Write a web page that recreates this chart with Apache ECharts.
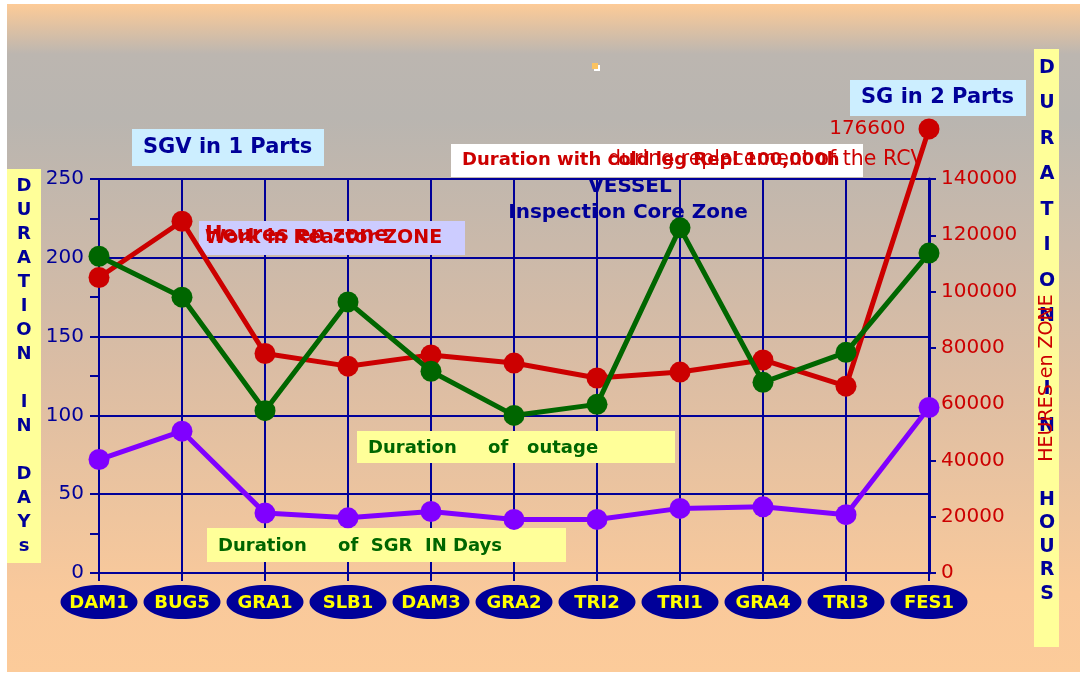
<!DOCTYPE html>
<html><head><meta charset="utf-8">
<script src="https://cdn.jsdelivr.net/npm/echarts@6/dist/echarts.min.js"></script>
<style>html,body{margin:0;padding:0;background:#fff}#c{width:1086px;height:674px}</style>
</head><body><div id="c"></div>
<script>
// ---- data ----
const categories = ['DAM1','BUG5','GRA1','SLB1','DAM3','GRA2','TRI2','TRI1','GRA4','TRI3','FES1'];
const outageDays = [201,175,103,172,128,100,107,219,121,140,203];
const sgrDays = [72,90,38,35,39,34,34,41,42,37,105];
const hoursInZone = [105000,125000,78000,73500,77500,74600,69300,71400,75700,66400,157800];
const hoursLabels = ['','','','','','','','','','','176600'];
const leftAxisRange = [0,250,50];
const rightAxisRange = [0,140000,20000];

const NAVY = '#000099', RED = '#cc0000', GREEN = '#006600', PURPLE = '#8000ff';
const F = 'DejaVu Sans';

const chart = echarts.init(document.getElementById('c'));

const redData = hoursInZone.map((v,i) => hoursLabels[i] ? {
  value: v,
  label: {show:true, position:'left', distance:13, formatter: hoursLabels[i],
          color: RED, fontSize: 20, fontFamily: F}
} : v);

chart.setOption({
  animation: false,
  grid: {left: 99, right: 157, top: 179, bottom: 101},
  xAxis: {
    type: 'category', data: categories, boundaryGap: false,
    axisLine: {lineStyle: {color: NAVY, width: 2}},
    axisTick: {show: true, length: 8, lineStyle: {color: NAVY, width: 2}},
    axisLabel: {color: '#ffff00', fontWeight: 'bold', fontSize: 18, fontFamily: F,
                margin: 30, verticalAlign: 'middle'},
    splitLine: {show: true, lineStyle: {color: NAVY, width: 2}}
  },
  yAxis: [{
    type: 'value', min: leftAxisRange[0], max: leftAxisRange[1], interval: leftAxisRange[2],
    axisLine: {show: true, lineStyle: {color: NAVY, width: 2}},
    axisTick: {show: true, length: 9, lineStyle: {color: NAVY, width: 2}},
    minorTick: {show: true, splitNumber: 2, length: 9, lineStyle: {color: NAVY, width: 2}},
    axisLabel: {color: NAVY, fontSize: 20, fontFamily: F, margin: 15},
    splitLine: {show: true, lineStyle: {color: NAVY, width: 2}}
  }, {
    type: 'value', position: 'right', min: rightAxisRange[0], max: rightAxisRange[1], interval: rightAxisRange[2],
    axisLine: {show: true, lineStyle: {color: NAVY, width: 3}},
    axisTick: {show: true, length: 7, lineStyle: {color: NAVY, width: 2}},
    axisLabel: {color: RED, fontSize: 20, fontFamily: F, margin: 12, formatter: v => String(v)},
    splitLine: {show: false}
  }],
  series: [{
    name: 'Heures en zone', type: 'line', yAxisIndex: 1, data: redData, clip: false,
    symbol: 'circle', symbolSize: 21, lineStyle: {color: RED, width: 5},
    itemStyle: {color: RED}, z: 3
  }, {
    name: 'Duration of outage', type: 'line', yAxisIndex: 0, data: outageDays,
    symbol: 'circle', symbolSize: 21, lineStyle: {color: GREEN, width: 5},
    itemStyle: {color: GREEN}, z: 4
  }, {
    name: 'Duration of SGR', type: 'line', yAxisIndex: 0, data: sgrDays,
    symbol: 'circle', symbolSize: 21, lineStyle: {color: PURPLE, width: 5},
    itemStyle: {color: PURPLE}, z: 5
  }]
});

function txt(x, y, text, font, fill, extra) {
  return Object.assign({type: 'text', x: x, y: y, z: 1,
    style: {text: text, font: font, fill: fill, textAlign: 'left', textVerticalAlign: 'middle'}}, extra || {});
}
function box(x, y, w, h, fill, z) {
  return {type: 'rect', z: z == null ? 1 : z, shape: {x: x, y: y, width: w, height: h}, style: {fill: fill}};
}

const g = [];
// background
g.push({type: 'rect', z: -2, silent: true, shape: {x: 7, y: 4, width: 1073, height: 668},
  style: {fill: new echarts.graphic.LinearGradient(0, 0, 0, 1, [
    {offset: 0, color: '#fdcb97'}, {offset: 0.075, color: '#bcb6b0'},
    {offset: 0.17, color: '#b9b5b0'}, {offset: 0.55, color: '#dbbda4'},
    {offset: 0.88, color: '#f9c99b'}, {offset: 1, color: '#fccb9a'}])}});
// category ellipses
categories.forEach(c => {
  const px = chart.convertToPixel({xAxisIndex: 0}, c);
  g.push({type: 'ellipse', z: -1, shape: {cx: px, cy: 602, rx: 38.5, ry: 17}, style: {fill: NAVY}});
});
// small marker
g.push(box(594, 65, 6, 6, '#ffffff', 1));
g.push(box(592, 63, 6, 6, '#fbc360', 1));
// left yellow strip
g.push(box(7, 169, 34, 394, '#ffff99', 1));
g.push({type: 'text', x: 24, y: 366, z: 1, style: {
  text: 'D\nU\nR\nA\nT\nI\nO\nN\n\nI\nN\n\nD\nA\nY\ns', font: 'bold 18px ' + F, fill: NAVY,
  textAlign: 'center', textVerticalAlign: 'middle', lineHeight: 24}});
// right yellow strip
g.push(box(1034, 49, 25, 598, '#ffff99', 1));
g.push({type: 'text', x: 1047, y: 192, z: 1, style: {
  text: 'D\nU\nR\nA\nT\nI\nO\nN', font: 'bold 19px ' + F, fill: NAVY,
  textAlign: 'center', textVerticalAlign: 'middle', lineHeight: 35.5}});
g.push({type: 'text', x: 1047, y: 408, z: 1, style: {
  text: 'I\nN', font: 'bold 19px ' + F, fill: NAVY,
  textAlign: 'center', textVerticalAlign: 'middle', lineHeight: 37}});
g.push({type: 'text', x: 1047, y: 547, z: 1, style: {
  text: 'H\nO\nU\nR\nS', font: 'bold 19px ' + F, fill: NAVY,
  textAlign: 'center', textVerticalAlign: 'middle', lineHeight: 23.5}});
g.push({type: 'text', x: 1047, y: 378, z: 2, rotation: Math.PI / 2, style: {
  text: 'HEURES en ZONE', font: '19px ' + F, fill: RED,
  textAlign: 'center', textVerticalAlign: 'middle'}});
// SGV in 1 Parts
g.push(box(132, 129, 192, 37, '#cceeff', 1));
g.push(txt(143, 148, 'SGV in 1 Parts', 'bold 21px ' + F, NAVY));
// SG in 2 Parts
g.push(box(850, 80, 176, 36, '#cceeff', 1));
g.push(txt(861, 98, 'SG in 2 Parts', 'bold 21px ' + F, NAVY));
// Duration with cold leg
g.push(box(451, 144, 412, 33, '#ffffff', 1));
g.push(txt(608, 160, 'during replacement of the RCV', '20.5px ' + F, RED));
g.push(txt(462, 160, 'Duration with cold leg Repl 100,000h', 'bold 18px ' + F, RED));
// VESSEL
g.push({type: 'text', x: 630, y: 187, z: 1, style: {text: 'VESSEL', font: 'bold 20px ' + F, fill: NAVY, textAlign: 'center', textVerticalAlign: 'middle'}});
g.push({type: 'text', x: 628, y: 213, z: 1, style: {text: 'Inspection Core Zone', font: 'bold 20px ' + F, fill: NAVY, textAlign: 'center', textVerticalAlign: 'middle'}});
// Heures en zone / Work in Reactor ZONE
g.push(box(199, 221, 266, 34, '#ccccff', 1));
g.push(txt(205, 238, 'Work in Reactor ZONE', 'bold 19px ' + F, RED));
g.push(txt(205, 236, 'Heures en zone', 'bold 21px ' + F, RED));
// Duration of outage
g.push(box(357, 431, 318, 32, '#ffff99', 1));
g.push(txt(368, 448, 'Duration     of   outage', 'bold 18px ' + F, GREEN));
// Duration of SGR
g.push(box(207, 528, 359, 34, '#ffff99', 1));
g.push(txt(218, 546, 'Duration     of  SGR  IN Days', 'bold 18px ' + F, GREEN));

chart.setOption({graphic: g});
</script></body></html>
